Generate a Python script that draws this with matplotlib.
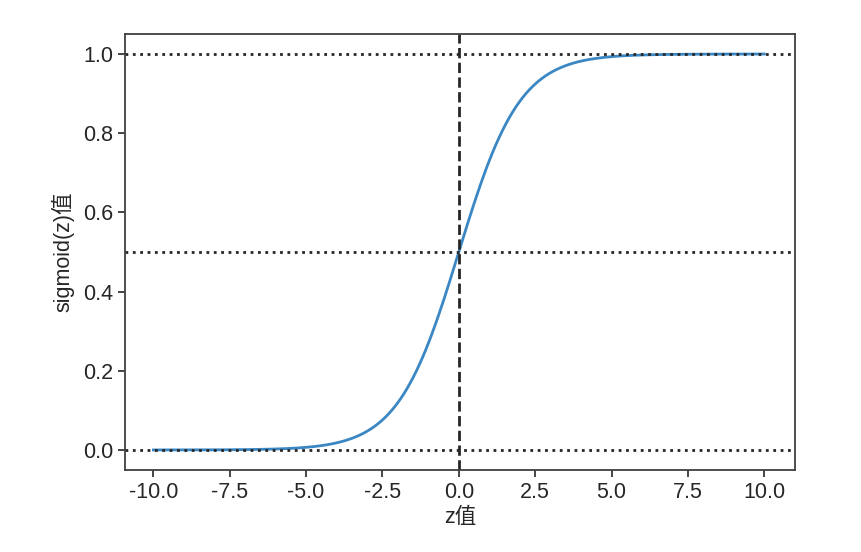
import matplotlib
matplotlib.use("Agg")
import matplotlib.pyplot as plt
import numpy as np

plt.rcParams['font.family'] = ['Liberation Sans', 'Noto Sans CJK SC', 'DejaVu Sans']
plt.rcParams['axes.unicode_minus'] = False

# sigmoid curve sampled on z
z = np.linspace(-10, 10, 201)
phi_z = 1.0 / (1.0 + np.exp(-z))

h_lines = [0.0, 0.5, 1.0]
y_ticks = [0.0, 0.2, 0.4, 0.6, 0.8, 1.0]

fig = plt.figure(figsize=(8.62, 5.52), dpi=100)
ax = fig.add_axes([0.145, 0.149, 0.777, 0.789])

ax.plot(z, phi_z, color='#3a87c4', lw=2)
ax.axvline(0.0, color='#262626', ls='--', lw=2)
for y in h_lines:
    ax.axhline(y, color='#262626', ls=':', lw=2)

ax.set_xlim(-10.93, 11.0)
ax.set_yticks(y_ticks)
ax.set_xticks(np.arange(-10, 10.1, 2.5))
ax.set_xlabel('z值', fontsize=15.5, color='#262626', labelpad=3)
ax.set_ylabel('sigmoid(z)值', fontsize=15.5, color='#262626', labelpad=6)
ax.tick_params(labelsize=15.5, colors='#262626', length=5, width=1.2)
for s in ax.spines.values():
    s.set_color('#404040')
    s.set_linewidth(1.3)

fig.savefig('out.png', dpi=100)
